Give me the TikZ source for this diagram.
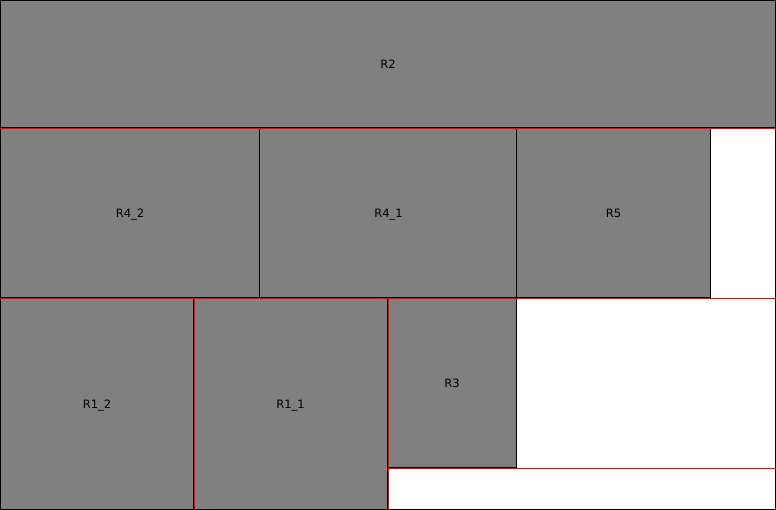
\documentclass[tikz,border=0pt]{standalone}
\usepackage{fontspec}
\setmainfont{DejaVu Sans}
\definecolor{boxgray}{RGB}{128,128,128}
\begin{document}
\begin{tikzpicture}[x=1pt,y=-1pt,
  box/.style={draw=black,fill=boxgray,line width=1pt,inner sep=0pt,text depth=0pt,
    font=\fontsize{11.5}{13}\selectfont},
  cut/.style={draw=red,line width=1pt},
  frame/.style={draw=black,line width=1pt}]
\useasboundingbox (0,0) rectangle (776,510);
\fill[white] (0,0) rectangle (776,510);
\draw[frame] (0.5,0.5) rectangle (775.5,509.5);
% rectangles
\node[box,minimum width=775pt,minimum height=127pt] (R2) at (388,64) {R2};
\node[box,minimum width=259pt,minimum height=169pt] (R42) at (130,213) {R4\_2};
\node[box,minimum width=258pt,minimum height=169pt] (R41) at (388.5,213) {R4\_1};
\node[box,minimum width=194pt,minimum height=169pt] (R5) at (613.5,213) {R5};
\node[box,minimum width=193pt,minimum height=211pt] (R12) at (97,404) {R1\_2};
\node[box,minimum width=194pt,minimum height=211pt] (R11) at (290.5,404) {R1\_1};
\node[box,minimum width=129pt,minimum height=169pt] (R3) at (452,383) {R3};
% cut lines
\coordinate (c1) at (776,128.5);
\coordinate (c2) at (776,298.5);
\coordinate (c3) at (776,468.5);
\draw[cut] (R42.north west |- c1) -- (c1);
\draw[cut] (R42.south west |- c2) -- (c2);
\draw[cut] (R3.south west |- c3) -- (c3);
\draw[cut] ([xshift=0.5pt]R12.north east |- c2) -- ([xshift=0.5pt]R12.south east);
\draw[cut] ([xshift=0.5pt]R11.north east |- c2) -- ([xshift=0.5pt]R11.south east);
\end{tikzpicture}
\end{document}
